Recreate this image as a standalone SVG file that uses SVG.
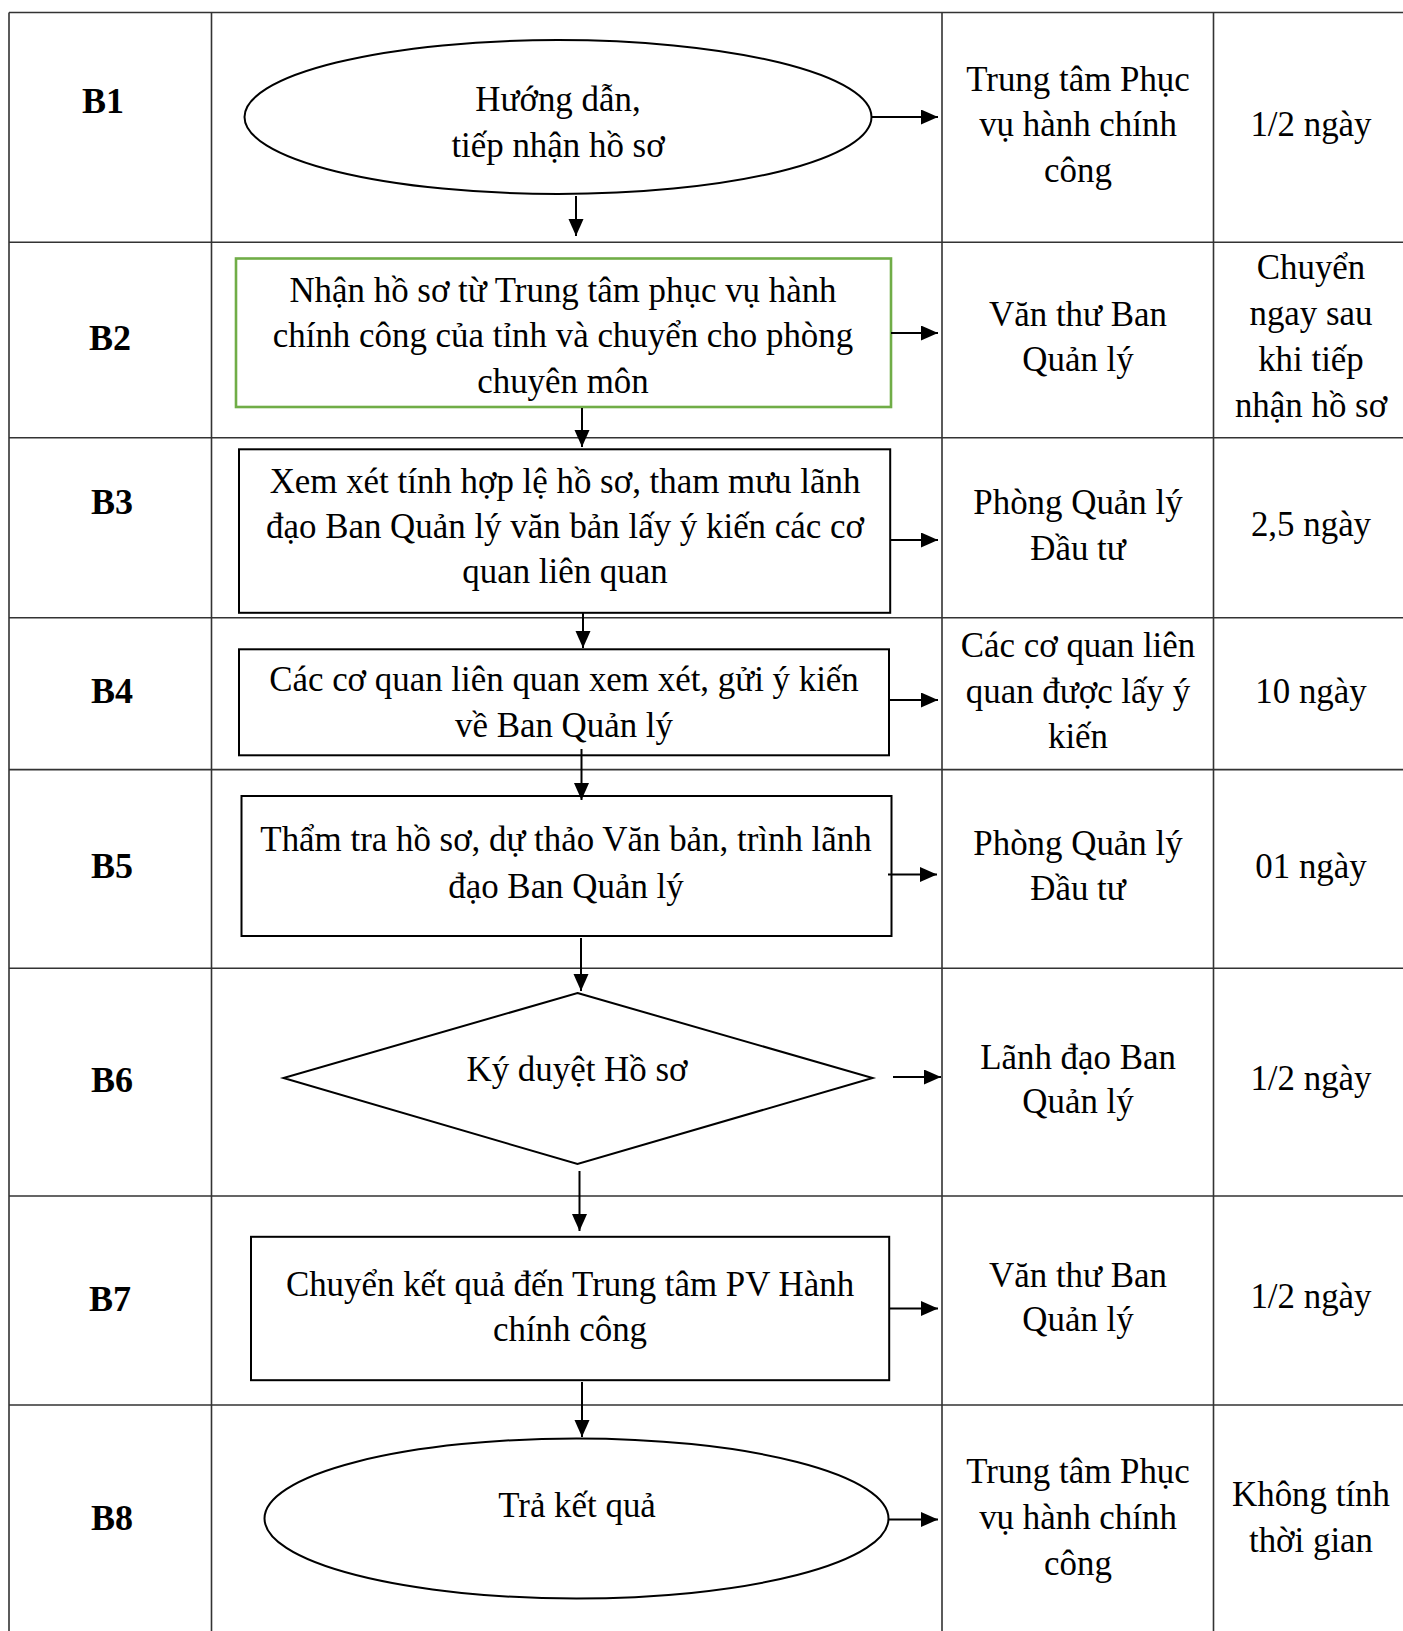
<svg xmlns="http://www.w3.org/2000/svg" width="1403" height="1631" viewBox="0 0 1403 1631">
<style>
.t{font-family:"Liberation Serif","Times New Roman",serif;font-size:34.9px;fill:#000;text-anchor:middle}
.b{font-family:"Liberation Serif","Times New Roman",serif;font-size:36px;font-weight:bold;fill:#000;text-anchor:middle}
.grid{stroke:#333;stroke-width:1.6;fill:none}
.shape{stroke:#000;stroke-width:2;fill:#fff}
.green{stroke:#70ad47;stroke-width:2.6;fill:#fff}
.conn{stroke:#000;stroke-width:2;fill:none}
</style>
<defs>
<marker id="ah" markerUnits="userSpaceOnUse" markerWidth="18" markerHeight="16" refX="17" refY="7.5" orient="auto">
<path d="M0,0 L17,7.5 L0,15 Z" fill="#000"/>
</marker>
</defs>
<rect width="1403" height="1631" fill="#fff"/>
<g id="table">
<path class="grid" d="M9,12.5 H1403 M9,242.3 H1403 M9,437.8 H1403 M9,617.8 H1403 M9,769.6 H1403 M9,968.2 H1403 M9,1196 H1403 M9,1405 H1403"/>
<path class="grid" d="M9,12.5 V1631 M211.5,12.5 V1631 M942,12.5 V1631 M1213.5,12.5 V1631"/>
</g>
<g id="labels">
<text class="b" x="103" y="113">B1</text>
<text class="b" x="110" y="350">B2</text>
<text class="b" x="112" y="514">B3</text>
<text class="b" x="112" y="703">B4</text>
<text class="b" x="112" y="878">B5</text>
<text class="b" x="112" y="1092">B6</text>
<text class="b" x="110" y="1311">B7</text>
<text class="b" x="112" y="1530">B8</text>
</g>
<g id="B1">
<ellipse class="shape" cx="558" cy="117" rx="313.5" ry="77"/>
<text class="t" x="558" y="111">Hướng dẫn,</text>
<text class="t" x="558" y="157">tiếp nhận hồ sơ</text>
</g>
<g id="B2">
<rect class="green" x="236" y="258.5" width="655" height="148.5"/>
<text class="t" x="563" y="302">Nhận hồ sơ từ Trung tâm phục vụ hành</text>
<text class="t" x="563" y="347">chính công của tỉnh và chuyển cho phòng</text>
<text class="t" x="563" y="393">chuyên môn</text>
</g>
<g id="B3">
<rect class="shape" x="239" y="449.3" width="651.2" height="163.5"/>
<text class="t" x="565" y="493">Xem xét tính hợp lệ hồ sơ, tham mưu lãnh</text>
<text class="t" x="565" y="538">đạo Ban Quản lý văn bản lấy ý kiến các cơ</text>
<text class="t" x="565" y="583">quan liên quan</text>
</g>
<g id="B4">
<rect class="shape" x="239" y="649.3" width="650" height="106"/>
<text class="t" x="564" y="691">Các cơ quan liên quan xem xét, gửi ý kiến</text>
<text class="t" x="564" y="737">về Ban Quản lý</text>
</g>
<g id="B5">
<rect class="shape" x="241.5" y="796" width="650" height="140"/>
<text class="t" x="566" y="851">Thẩm tra hồ sơ, dự thảo Văn bản, trình lãnh</text>
<text class="t" x="566" y="898">đạo Ban Quản lý</text>
</g>
<g id="B6">
<polygon class="shape" points="577.5,993 872.6,1078 577.5,1164 283.5,1078"/>
<text class="t" x="577" y="1081">Ký duyệt Hồ sơ</text>
</g>
<g id="B7">
<rect class="shape" x="251" y="1236.8" width="638.2" height="143.4"/>
<text class="t" x="570" y="1296">Chuyển kết quả đến Trung tâm PV Hành</text>
<text class="t" x="570" y="1341">chính công</text>
</g>
<g id="B8">
<ellipse class="shape" cx="576.5" cy="1518.5" rx="312" ry="80"/>
<text class="t" x="577" y="1517">Trả kết quả</text>
</g>
<g id="col3">
<text class="t" x="1078" y="91">Trung tâm Phục</text>
<text class="t" x="1078" y="136">vụ hành chính</text>
<text class="t" x="1078" y="181.5">công</text>
<text class="t" x="1078" y="326">Văn thư Ban</text>
<text class="t" x="1078" y="371">Quản lý</text>
<text class="t" x="1078" y="514">Phòng Quản lý</text>
<text class="t" x="1078" y="560">Đầu tư</text>
<text class="t" x="1078" y="657">Các cơ quan liên</text>
<text class="t" x="1078" y="703">quan được lấy ý</text>
<text class="t" x="1078" y="748">kiến</text>
<text class="t" x="1078" y="855">Phòng Quản lý</text>
<text class="t" x="1078" y="900">Đầu tư</text>
<text class="t" x="1078" y="1069">Lãnh đạo Ban</text>
<text class="t" x="1078" y="1113">Quản lý</text>
<text class="t" x="1078" y="1287">Văn thư Ban</text>
<text class="t" x="1078" y="1331">Quản lý</text>
<text class="t" x="1078" y="1483">Trung tâm Phục</text>
<text class="t" x="1078" y="1529">vụ hành chính</text>
<text class="t" x="1078" y="1575">công</text>
</g>
<g id="col4">
<text class="t" x="1311" y="136">1/2 ngày</text>
<text class="t" x="1311" y="279">Chuyển</text>
<text class="t" x="1311" y="325">ngay sau</text>
<text class="t" x="1311" y="371">khi tiếp</text>
<text class="t" x="1311" y="417">nhận hồ sơ</text>
<text class="t" x="1311" y="536">2,5 ngày</text>
<text class="t" x="1311" y="703">10 ngày</text>
<text class="t" x="1311" y="878">01 ngày</text>
<text class="t" x="1311" y="1090">1/2 ngày</text>
<text class="t" x="1311" y="1308">1/2 ngày</text>
<text class="t" x="1311" y="1506">Không tính</text>
<text class="t" x="1311" y="1552">thời gian</text>
</g>
<g id="connectors">
<path class="conn" marker-end="url(#ah)" d="M872,117 H938"/>
<path class="conn" marker-end="url(#ah)" d="M576,196 V236"/>
<path class="conn" marker-end="url(#ah)" d="M891,333 H938"/>
<path class="conn" marker-end="url(#ah)" d="M582,408 V447"/>
<path class="conn" marker-end="url(#ah)" d="M890,540 H938"/>
<path class="conn" marker-end="url(#ah)" d="M583,612 V648"/>
<path class="conn" marker-end="url(#ah)" d="M889,700 H938"/>
<path class="conn" marker-end="url(#ah)" d="M581.5,749 V800"/>
<path class="conn" marker-end="url(#ah)" d="M888,874.5 H937"/>
<path class="conn" marker-end="url(#ah)" d="M581,938 V991"/>
<path class="conn" marker-end="url(#ah)" d="M893,1077 H941"/>
<path class="conn" marker-end="url(#ah)" d="M579.5,1171 V1231"/>
<path class="conn" marker-end="url(#ah)" d="M889,1308.5 H938"/>
<path class="conn" marker-end="url(#ah)" d="M582,1382 V1437"/>
<path class="conn" marker-end="url(#ah)" d="M888,1519.5 H938"/>
</g>
</svg>
